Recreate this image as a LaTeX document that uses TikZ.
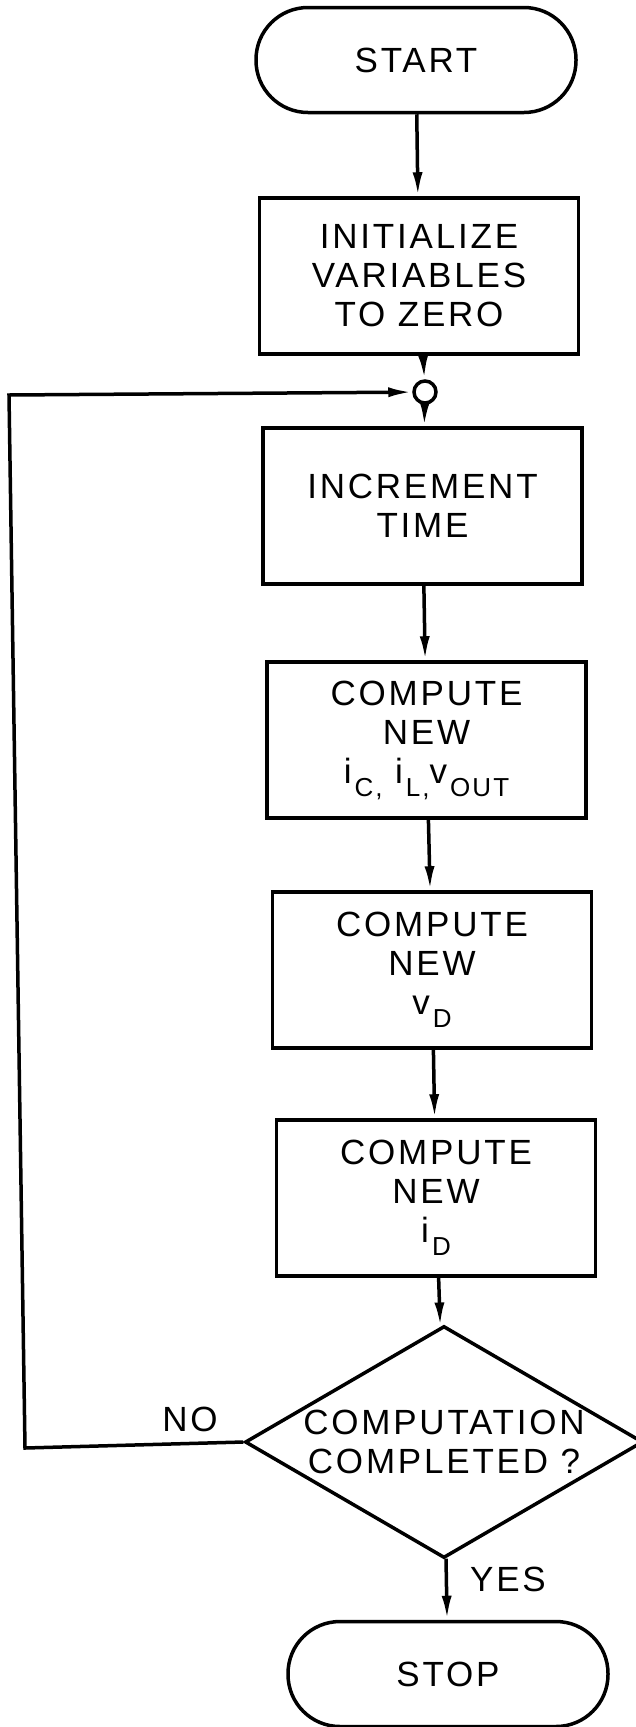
\documentclass[tikz,border=0pt]{standalone}
\usepackage{fontspec}
\setmainfont{Liberation Sans}[LetterSpace=8.0]
\usepackage{tikz}
\usetikzlibrary{arrows.meta, shapes.geometric}
\newcommand{\lowsub}[2]{#1\hspace{3pt}\raisebox{-13pt}{\fontsize{26}{26}\selectfont #2}}
\tikzset{
    box/.style={draw, line width=3.5pt, minimum width=319pt, minimum height=156pt, align=center},
    terminal/.style={draw, line width=3.5pt, minimum width=320pt, minimum height=105pt, rounded corners=52pt},
    decision/.style={draw, diamond, line width=3.5pt, aspect=1.72, inner sep=0pt, minimum width=398pt, minimum height=232pt, align=center},
    flow/.style={line width=3.5pt, -{Latex[length=24pt, width=10pt]}},
}
\begin{document}
\begin{tikzpicture}[x=1pt, y=-1pt, font=\fontsize{35}{39}\selectfont]
            \useasboundingbox (0,0) rectangle (635,1727);
            \node[terminal] (start) at (416,60) {START};
            \node[box] (init) at (419,276) {INITIALIZE\\VARIABLES\\TO ZERO};
            \node[draw, circle, line width=3.5pt, minimum size=22pt, inner sep=0pt] (join) at (425,392) {};
            \node[box] (incr) at (422.5,506) {INCREMENT\\TIME};
            \node[box] (comp1) at (426.5,740) {COMPUTE\\NEW\\\lowsub{i}{C,} \lowsub{i}{L,}\lowsub{v}{OUT}};
            \node[box] (comp2) at (432,970) {COMPUTE\\NEW\\\lowsub{v}{D}};
            \node[box] (comp3) at (436,1198) {COMPUTE\\NEW\\\lowsub{i}{D}};
            \node[decision] (dec) at (444,1442) {COMPUTATION\\COMPLETED ?};
            \node[terminal] (stop) at (448,1674) {STOP};
            \node (no) at (190,1419) {NO};
            \node (yes) at (508,1579) {YES};
            \coordinate (lb) at (25,1448);
            \coordinate (lt) at (9,395);
            \draw[flow] (start) -- (init);
            \draw[flow] (init) -- (join);
            \draw[flow] (join) -- (incr);
            \draw[flow] (incr) -- (comp1);
            \draw[flow] (comp1) -- (comp2);
            \draw[flow] (comp2) -- (comp3);
            \draw[flow] (comp3) -- (dec);
            \draw[flow] (dec) -- (stop);
            %\draw[flow] (dec.west) -| (lt) -- (join);
            \draw[flow] (dec.west) -- (lb) -- (lt) -- (join);
        \end{tikzpicture}
\end{document}
